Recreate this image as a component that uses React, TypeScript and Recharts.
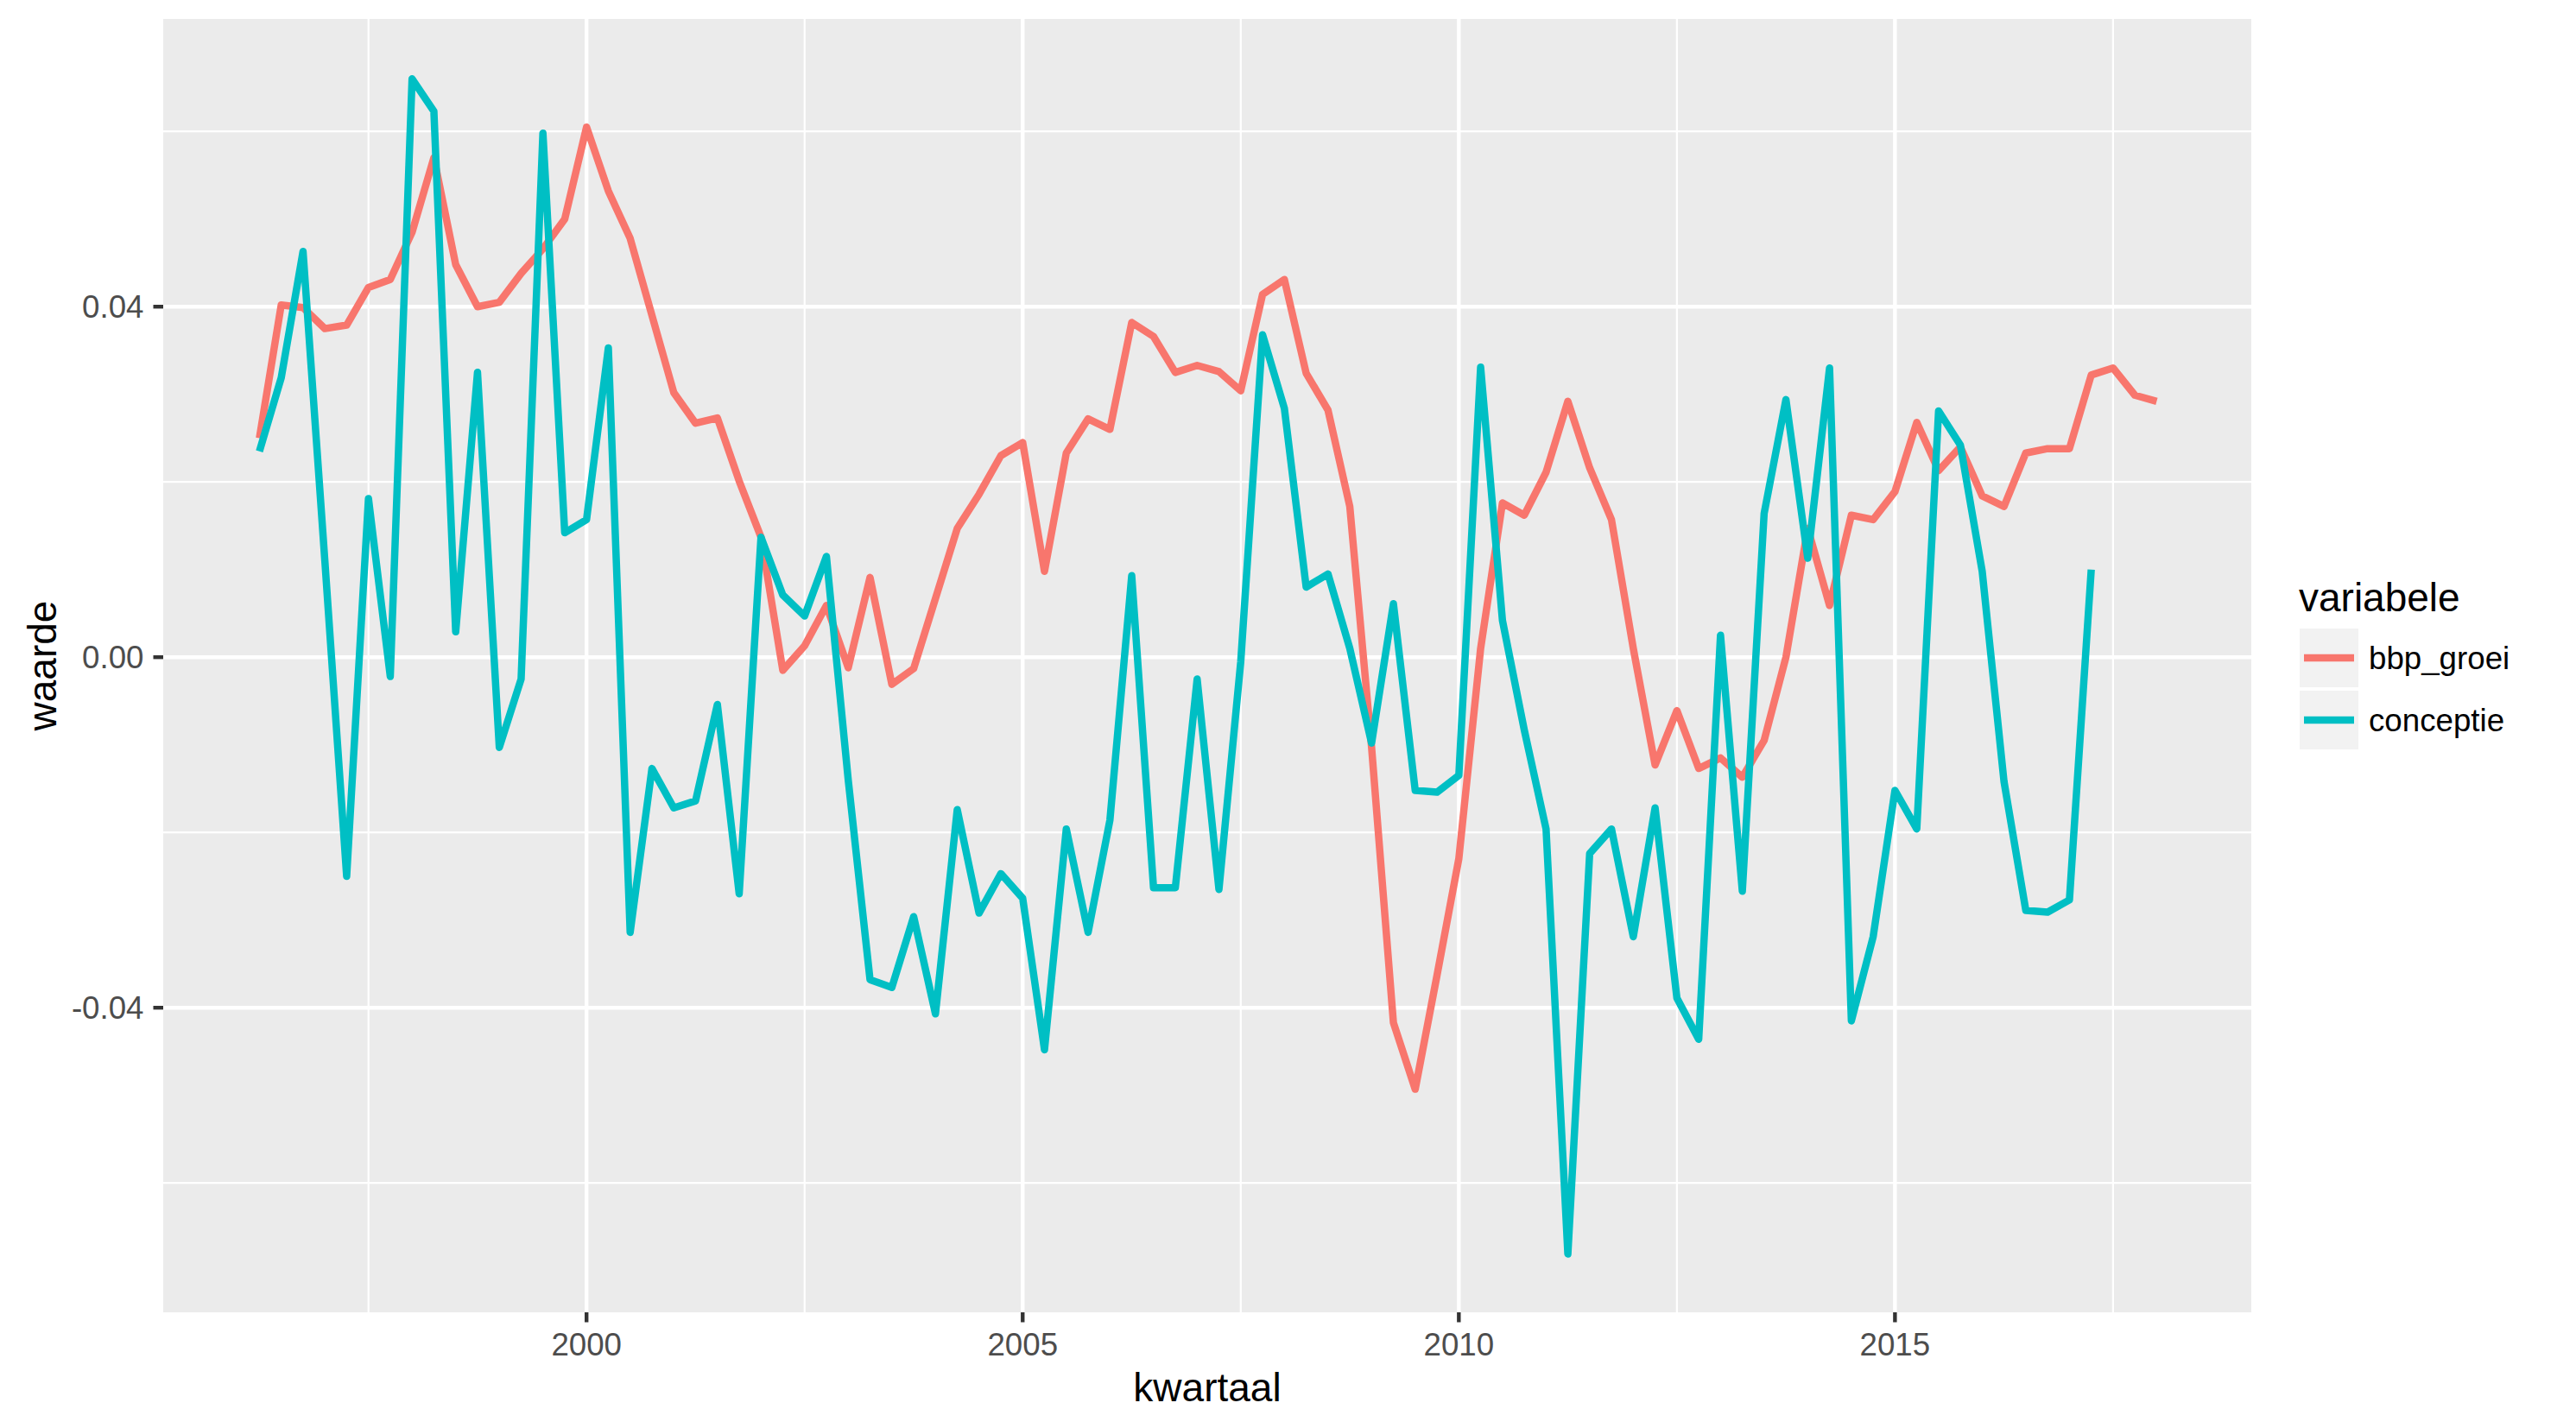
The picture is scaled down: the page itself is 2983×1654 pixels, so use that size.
import React from 'react';
import { LineChart, Line, XAxis, YAxis, CartesianGrid, Label } from 'recharts';

// quarters as decimal years
const kwartaal = [
  1996.25, 1996.5, 1996.75,
  1997, 1997.25, 1997.5, 1997.75,
  1998, 1998.25, 1998.5, 1998.75,
  1999, 1999.25, 1999.5, 1999.75,
  2000, 2000.25, 2000.5, 2000.75,
  2001, 2001.25, 2001.5, 2001.75,
  2002, 2002.25, 2002.5, 2002.75,
  2003, 2003.25, 2003.5, 2003.75,
  2004, 2004.25, 2004.5, 2004.75,
  2005, 2005.25, 2005.5, 2005.75,
  2006, 2006.25, 2006.5, 2006.75,
  2007, 2007.25, 2007.5, 2007.75,
  2008, 2008.25, 2008.5, 2008.75,
  2009, 2009.25, 2009.5, 2009.75,
  2010, 2010.25, 2010.5, 2010.75,
  2011, 2011.25, 2011.5, 2011.75,
  2012, 2012.25, 2012.5, 2012.75,
  2013, 2013.25, 2013.5, 2013.75,
  2014, 2014.25, 2014.5, 2014.75,
  2015, 2015.25, 2015.5, 2015.75,
  2016, 2016.25, 2016.5, 2016.75,
  2017, 2017.25, 2017.5, 2017.75,
  2018,
];

const bbpGroei = [
  0.0250, 0.0402, 0.0399,
  0.0375, 0.0379, 0.0422, 0.0431,
  0.0485, 0.0570, 0.0448, 0.0400,
  0.0405, 0.0438, 0.0466, 0.0500,
  0.0605, 0.0532, 0.0478, 0.0390,
  0.0302, 0.0267, 0.0273, 0.0201,
  0.0137, -0.0015, 0.0013, 0.0059,
  -0.0012, 0.0091, -0.0031, -0.0013,
  0.0067, 0.0147, 0.0186, 0.0230,
  0.0245, 0.0098, 0.0233, 0.0272,
  0.0260, 0.0382, 0.0366, 0.0325,
  0.0333, 0.0326, 0.0304, 0.0414,
  0.0431, 0.0324, 0.0282, 0.0172,
  -0.0103, -0.0417, -0.0493, -0.0363,
  -0.0230, 0.0010, 0.0176, 0.0162,
  0.0211, 0.0292, 0.0216, 0.0157,
  0.0010, -0.0123, -0.0061, -0.0127,
  -0.0115, -0.0137, -0.0095, 0.0000,
  0.0147, 0.0059, 0.0162, 0.0157,
  0.0189, 0.0268, 0.0213, 0.0240,
  0.0184, 0.0172, 0.0233, 0.0238,
  0.0238, 0.0322, 0.0330, 0.0299,
  0.0292,
];

// conceptie stops at 2017.25
const conceptie = [
  0.0235, 0.0319, 0.0463,
  0.0110, -0.0250, 0.0181, -0.0022,
  0.0660, 0.0623, 0.0029, 0.0325,
  -0.0103, -0.0025, 0.0598, 0.0142,
  0.0157, 0.0353, -0.0314, -0.0127,
  -0.0172, -0.0164, -0.0054, -0.0270,
  0.0137, 0.0071, 0.0047, 0.0115,
  -0.0140, -0.0368, -0.0377, -0.0296,
  -0.0407, -0.0174, -0.0292, -0.0247,
  -0.0275, -0.0448, -0.0196, -0.0314,
  -0.0186, 0.0093, -0.0263, -0.0263,
  -0.0025, -0.0265, -0.0005, 0.0368,
  0.0284, 0.0080, 0.0095, 0.0010,
  -0.0098, 0.0061, -0.0152, -0.0154,
  -0.0135, 0.0331, 0.0042, -0.0083,
  -0.0196, -0.0681, -0.0224, -0.0196,
  -0.0319, -0.0172, -0.0389, -0.0436,
  0.0025, -0.0267, 0.0164, 0.0294,
  0.0113, 0.0330, -0.0415, -0.0319,
  -0.0152, -0.0196, 0.0281, 0.0242,
  0.0098, -0.0142, -0.0289, -0.0291,
  -0.0277, 0.0100,
];

const seriesNames = ['bbp_groei', 'conceptie'];
const seriesColors = ['#F8766D', '#00BFC4'];

const xDomain = [1995.147, 2019.085];
const yDomain = [-0.07476, 0.07283];
const xTicks = [2000, 2005, 2010, 2015];
const xMinor = [1997.5, 2002.5, 2007.5, 2012.5, 2017.5];
const yTicks = [-0.04, 0, 0.04];
const yMinor = [-0.06, -0.02, 0.02, 0.06];

const data = kwartaal.map((k, i) => ({
  kwartaal: k,
  bbp_groei: bbpGroei[i],
  conceptie: i < conceptie.length ? conceptie[i] : null,
}));

const FONT = '"Liberation Sans", Arial, sans-serif';
const W = 2983;
const H = 1654;

// grid positions: use the axis scale when recharts hands one over, else map the domain onto the plot box
const xGrid = (values: number[]) => (props: any) => {
  const axis = props.xAxis;
  if (axis && typeof axis.scale === 'function') return values.map((v) => axis.scale(v));
  const o = props.offset;
  return values.map((v) => o.left + ((v - xDomain[0]) / (xDomain[1] - xDomain[0])) * o.width);
};
const yGrid = (values: number[]) => (props: any) => {
  const axis = props.yAxis;
  if (axis && typeof axis.scale === 'function') return values.map((v) => axis.scale(v));
  const o = props.offset;
  return values.map((v) => o.top + ((yDomain[1] - v) / (yDomain[1] - yDomain[0])) * o.height);
};

const XTitle = (props: any) => {
  const vb = props.viewBox || {};
  return (
    <text x={vb.x + vb.width / 2} y={vb.y + vb.height - 31} textAnchor="middle"
      fontFamily={FONT} fontSize={46} fill="#000000">kwartaal</text>
  );
};

const YTitle = (props: any) => {
  const vb = props.viewBox || {};
  const cy = vb.y + vb.height / 2;
  return (
    <text x={65} y={cy} transform={`rotate(-90, 65, ${cy})`} textAnchor="middle"
      fontFamily={FONT} fontSize={46} fill="#000000">waarde</text>
  );
};

const LegendBox = () => (
  <svg width={W} height={H} style={{ position: 'absolute', left: 0, top: 0, pointerEvents: 'none' }}>
    <text x={2662} y={708} fontFamily={FONT} fontSize={46} fill="#000000">variabele</text>
    {seriesNames.map((name, i) => {
      const top = 728 + i * 72;
      return (
        <g key={name}>
          <rect x={2663} y={top} width={68} height={68} fill="#F2F2F2" />
          <line x1={2668} x2={2726} y1={top + 34} y2={top + 34} stroke={seriesColors[i]} strokeWidth={8.5} />
          <text x={2743} y={top + 47} fontFamily={FONT} fontSize={36.7} fill="#000000">{name}</text>
        </g>
      );
    })}
  </svg>
);

const App: React.FC = () => {
  return (
    <div style={{ position: 'absolute', left: 0, top: 0, width: W, height: H, background: '#FFFFFF' }}>
      <LineChart width={W} height={H} data={data} margin={{ top: 22, right: 376, bottom: 0, left: 0 }}>
        <CartesianGrid fill="#EBEBEB" stroke="#FFFFFF" strokeWidth={2.2}
          horizontalCoordinatesGenerator={yGrid(yMinor)}
          verticalCoordinatesGenerator={xGrid(xMinor)} />
        <CartesianGrid stroke="#FFFFFF" strokeWidth={4.4}
          horizontalCoordinatesGenerator={yGrid(yTicks)}
          verticalCoordinatesGenerator={xGrid(xTicks)} />
        <XAxis dataKey="kwartaal" type="number" domain={xDomain} allowDataOverflow
          ticks={xTicks} height={134} axisLine={false} tickSize={11.5} tickMargin={12}
          tickLine={{ stroke: '#333333', strokeWidth: 4.4 }}
          tick={{ fill: '#4D4D4D', fontSize: 36.7, fontFamily: FONT }}>
          <Label content={XTitle} />
        </XAxis>
        <YAxis type="number" domain={yDomain} allowDataOverflow
          ticks={yTicks} width={189} axisLine={false} tickSize={11.5} tickMargin={11}
          tickFormatter={(v: number) => v.toFixed(2)}
          tickLine={{ stroke: '#333333', strokeWidth: 4.4 }}
          tick={{ fill: '#4D4D4D', fontSize: 36.7, fontFamily: FONT }}>
          <Label content={YTitle} />
        </YAxis>
        {seriesNames.map((name, i) => (
          <Line key={name} type="linear" dataKey={name} stroke={seriesColors[i]} strokeWidth={8.5}
            strokeLinejoin="round" dot={false} activeDot={false} isAnimationActive={false} />
        ))}
      </LineChart>
      <LegendBox />
    </div>
  );
};

export default App;
